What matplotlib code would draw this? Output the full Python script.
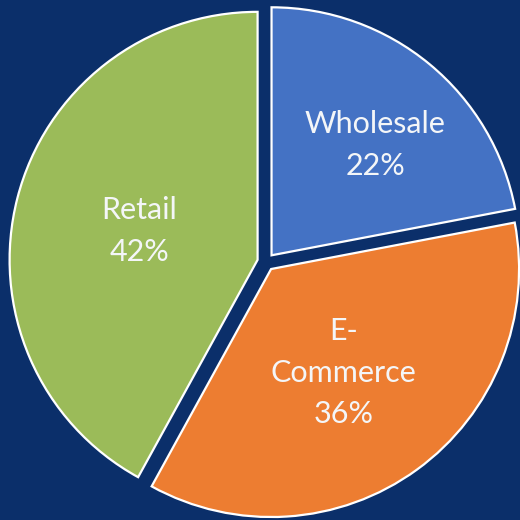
import matplotlib
matplotlib.use("Agg")
import matplotlib.pyplot as plt
import numpy as np

categories = ["Wholesale", "E-\nCommerce", "Retail"]
shares = [22, 36, 42]
colors = ["#4472C4", "#ED7D31", "#9BBB59"]
label_radius = [0.61, 0.51, 0.49]
label_shift_deg = [-3.6, -1.0, 0.6]

bg = "#0B2F6A"
fig = plt.figure(figsize=(5.2, 5.2), dpi=100, facecolor=bg)
ax = fig.add_axes([0, 0, 1, 1])
ax.set_facecolor(bg)

R = 248.0
cx, cy = 266.0, 262.0
wedges, _ = ax.pie(shares, colors=colors, startangle=90, counterclock=False,
                   explode=[0.035] * 3,
                   wedgeprops=dict(edgecolor="white", linewidth=1.6))
for w, cat, val, lr, sh in zip(wedges, categories, shares, label_radius, label_shift_deg):
    mid = np.deg2rad((w.theta1 + w.theta2) / 2 + sh)
    x = w.center[0] + lr * np.cos(mid)
    y = w.center[1] + lr * np.sin(mid)
    ax.text(x, y, f"{cat}\n{val}%", ha="center", va="center", color="#F4F6F8",
            fontsize=22, family="Lato", linespacing=1.6)

ax.set_xlim(-cx / R, (520 - cx) / R)
ax.set_ylim(-(520 - cy) / R, cy / R)
ax.set_aspect("equal")
ax.axis("off")
fig.savefig("out.png", dpi=100, facecolor=bg)
